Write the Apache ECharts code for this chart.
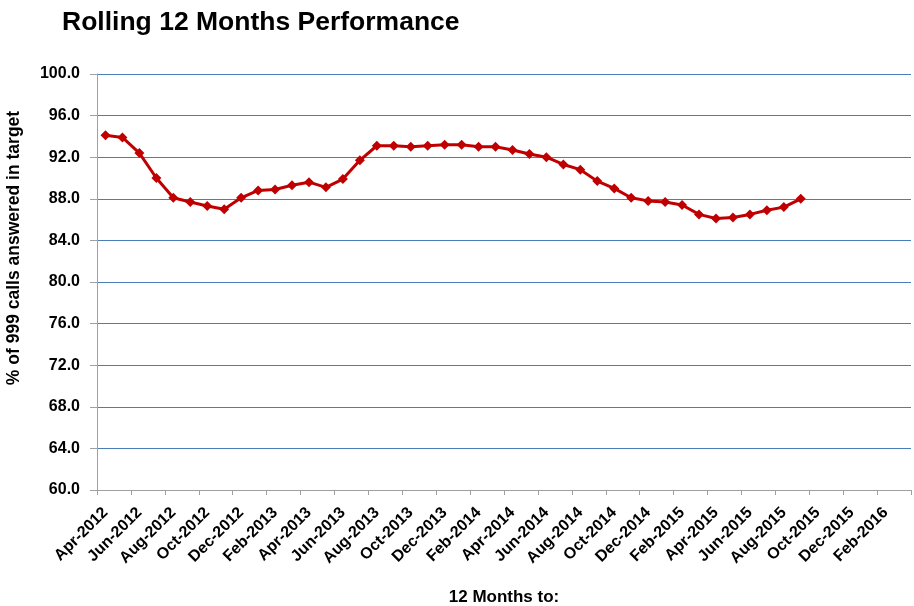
<!DOCTYPE html>
<html>
<head>
<meta charset="utf-8">
<script src="https://cdn.jsdelivr.net/npm/echarts@6/dist/echarts.min.js"></script>
<style>
html,body{margin:0;padding:0;background:#fff;}
#chart{width:914px;height:606px;}
</style>
</head>
<body>
<div id="chart"></div>
<script>
// months Apr-2012 .. Mar-2016
var months = [
    'Apr-2012','May-2012','Jun-2012','Jul-2012','Aug-2012','Sep-2012','Oct-2012','Nov-2012','Dec-2012',
    'Jan-2013','Feb-2013','Mar-2013','Apr-2013','May-2013','Jun-2013','Jul-2013','Aug-2013','Sep-2013','Oct-2013','Nov-2013','Dec-2013',
    'Jan-2014','Feb-2014','Mar-2014','Apr-2014','May-2014','Jun-2014','Jul-2014','Aug-2014','Sep-2014','Oct-2014','Nov-2014','Dec-2014',
    'Jan-2015','Feb-2015','Mar-2015','Apr-2015','May-2015','Jun-2015','Jul-2015','Aug-2015','Sep-2015','Oct-2015','Nov-2015','Dec-2015',
    'Jan-2016','Feb-2016','Mar-2016'
];

// % of 999 calls answered in target (rolling 12 months)
var pctInTarget = [
    94.1, 93.9, 92.4, 90.0, 88.1, 87.7, 87.3, 87.0, 88.1,
    88.8, 88.9, 89.3, 89.6, 89.1, 89.9, 91.7, 93.1, 93.1, 93.0, 93.1, 93.2,
    93.2, 93.0, 93.0, 92.7, 92.3, 92.0, 91.3, 90.8, 89.7, 89.0, 88.1, 87.8,
    87.7, 87.4, 86.5, 86.1, 86.2, 86.5, 86.9, 87.2, 88.0
];

var yMin = 60, yMax = 100, yStep = 4;

var chart = echarts.init(document.getElementById('chart'));
chart.setOption({
    animation: false,
    backgroundColor: '#fff',
    textStyle: { fontFamily: 'Liberation Sans, Arial, sans-serif' },
    title: {
        text: 'Rolling 12 Months Performance',
        left: 57,
        top: 4,
        textStyle: { fontSize: 26.5, fontWeight: 'bold', color: '#000' }
    },
    grid: { left: 97, right: 3, top: 74, bottom: 116, containLabel: false, outerBoundsMode: 'none' },
    xAxis: {
        type: 'category',
        data: months,
        boundaryGap: true,
        name: '12 Months to:',
        nameLocation: 'middle',
        nameGap: 99,
        nameTextStyle: { fontSize: 17, fontWeight: 'bold', color: '#000' },
        axisLine: { lineStyle: { color: '#a0a0a0', width: 1 } },
        axisTick: { show: true, interval: 1, alignWithLabel: false, length: 5, lineStyle: { color: '#a0a0a0' } },
        axisLabel: { interval: 1, rotate: 45, fontSize: 16, fontWeight: 'bold', color: '#000', margin: 20 },
        splitLine: { show: false }
    },
    yAxis: {
        type: 'value',
        min: yMin,
        max: yMax,
        interval: yStep,
        name: '% of 999 calls answered in target',
        nameLocation: 'middle',
        nameGap: 74,
        nameTextStyle: { fontSize: 17.5, fontWeight: 'bold', color: '#000', padding: [0, 0, 0, 68] },
        axisLine: { show: true, lineStyle: { color: '#a0a0a0', width: 1 } },
        axisTick: { show: true, length: 7, lineStyle: { color: '#a0a0a0' } },
        axisLabel: {
            fontSize: 16, fontWeight: 'bold', color: '#000', margin: 17,
            formatter: function (v) { return v.toFixed(1); }
        },
        splitLine: { show: true, lineStyle: { color: '#4a7ebb', width: 1 } }
    },
    series: [{
        type: 'line',
        data: pctInTarget,
        symbol: 'diamond',
        symbolSize: 10,
        lineStyle: { color: '#c00000', width: 3 },
        itemStyle: { color: '#c00000' }
    }]
});
</script>
</body>
</html>
